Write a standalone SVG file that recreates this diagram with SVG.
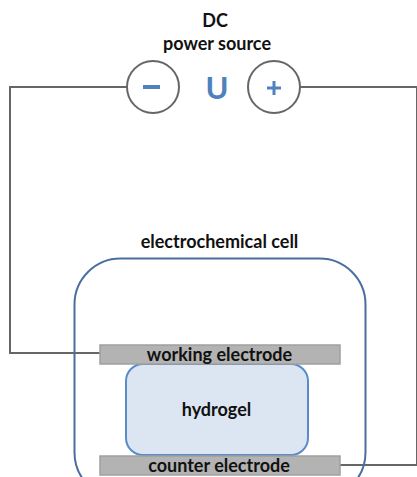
<svg xmlns="http://www.w3.org/2000/svg" width="417" height="477" viewBox="0 0 417 477">
<style>
text{font-family:"Lato","Open Sans","Liberation Sans",sans-serif;font-weight:700;font-size:18px;fill:#111;text-anchor:middle}
.wire{fill:none;stroke:#666;stroke-width:2}
.term{fill:#fff;stroke:#666;stroke-width:2}
.sym{fill:#4f81bd;font-weight:700}
.el{fill:#b3b3b3;stroke:#a0a0a0;stroke-width:1.5}
</style>
<rect width="417" height="477" fill="#fff"/>
<g id="connectors">
<path class="wire" d="M127 87H10V353H100"/>
<path class="wire" d="M300 87H417V465H340"/>
</g>
<g id="source-label"><text x="215" y="27">DC</text><text x="217" y="50">power source</text></g>
<g id="minus"><circle class="term" cx="153" cy="87" r="26"/><rect x="143" y="85" width="17" height="4" fill="#4f81bd"/></g>
<g id="voltage"><text class="sym" x="217" y="99" style="font-size:31px">U</text></g>
<g id="plus"><circle class="term" cx="274" cy="87" r="26"/><path d="M267 88H281M274 81V95" stroke="#4f81bd" stroke-width="3" fill="none"/></g>
<g id="cell"><rect x="74.500" y="258.500" width="291" height="240" rx="46" fill="none" stroke="#4a6f9e" stroke-width="2"/><text x="219.500" y="247.500">electrochemical cell</text></g>
<g id="hydrogel"><rect x="126" y="364" width="182" height="91" rx="17" fill="#dce6f2" stroke="#5b8bc8" stroke-width="2"/><text x="216.500" y="416">hydrogel</text></g>
<g id="working-electrode"><rect class="el" x="100" y="345" width="240" height="19"/><text x="219.500" y="361">working electrode</text></g>
<g id="counter-electrode"><rect class="el" x="100" y="456" width="240" height="19"/><text x="219" y="472">counter electrode</text></g>
</svg>
